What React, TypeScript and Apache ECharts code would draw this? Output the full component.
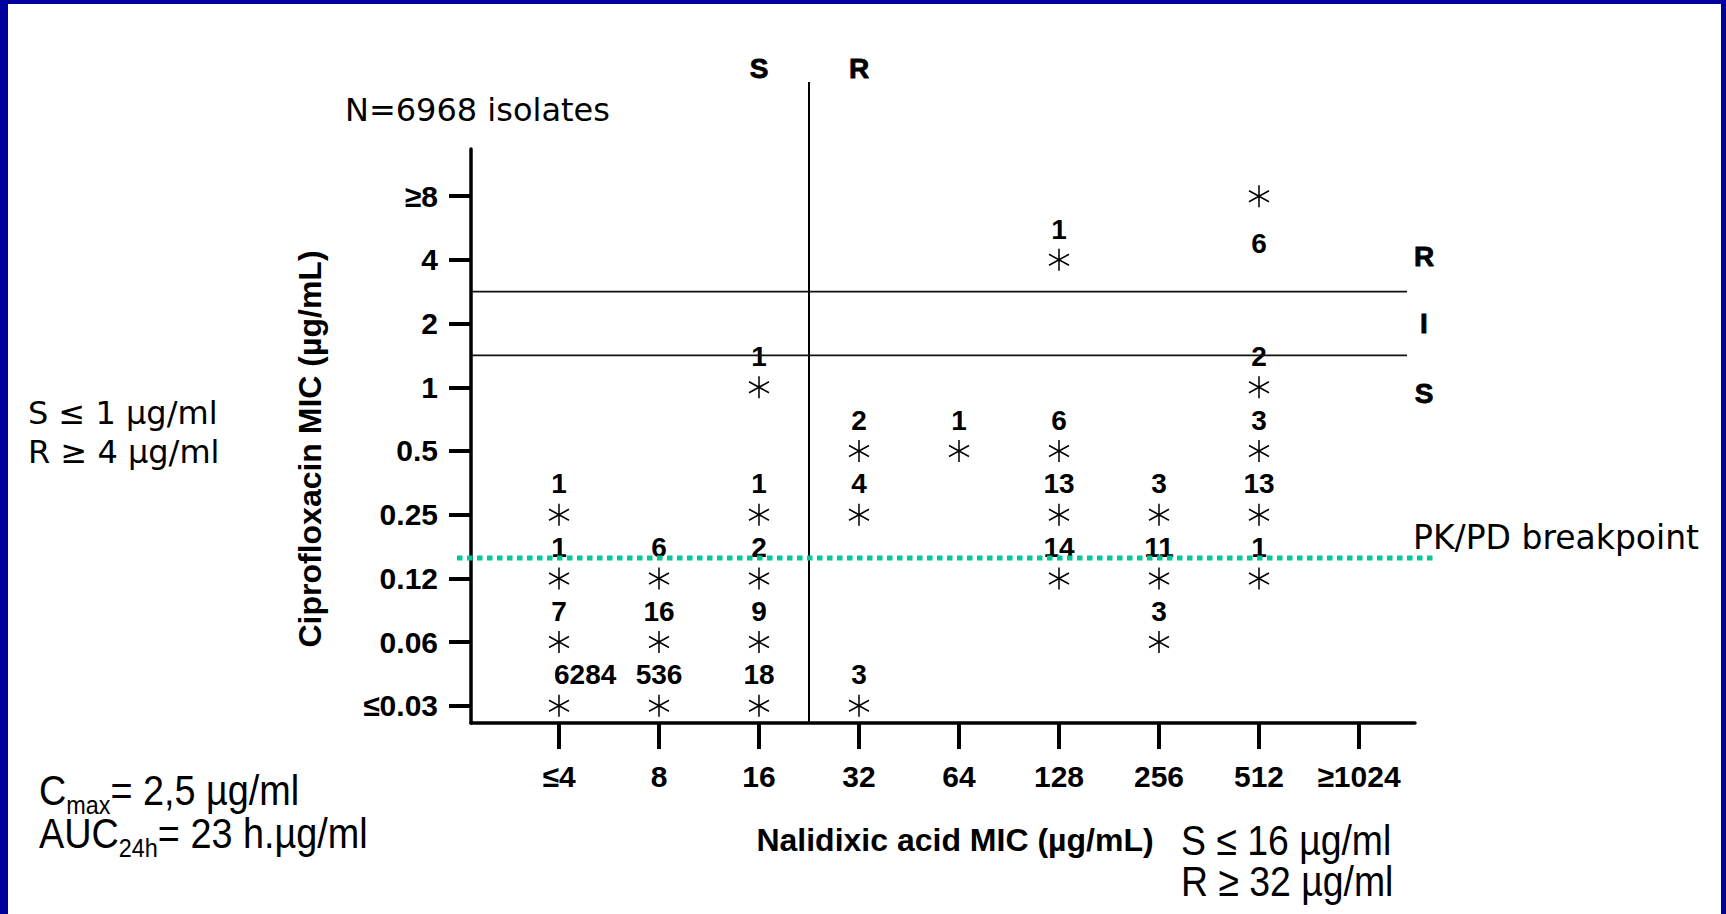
import React, { useEffect, useRef } from "react";
import * as echarts from "echarts";

// Nalidixic acid MIC categories (x) and Ciprofloxacin MIC categories (y)
const xCategories = ["≤4", "8", "16", "32", "64", "128", "256", "512", "≥1024"];
const yCategories = ["≤0.03", "0.06", "0.12", "0.25", "0.5", "1", "2", "4", "≥8"];
// log2 positions of the categories
const xValues = [2, 3, 4, 5, 6, 7, 8, 9, 10];
const yValues = [-5, -4, -3, -2, -1, 0, 1, 2, 3];

// number of isolates per cipro category (≤0.03 … ≥8), one array per nalidixic column
const countsLe4 = [6284, 7, 1, 1, 0, 0, 0, 0, 0];
const counts8 = [536, 16, 6, 0, 0, 0, 0, 0, 0];
const counts16 = [18, 9, 2, 1, 0, 1, 0, 0, 0];
const counts32 = [3, 0, 0, 4, 2, 0, 0, 0, 0];
const counts64 = [0, 0, 0, 0, 1, 0, 0, 0, 0];
const counts128 = [0, 0, 14, 13, 6, 0, 0, 1, 0];
const counts256 = [0, 3, 11, 3, 0, 0, 0, 0, 0];
const counts512 = [0, 0, 1, 13, 3, 2, 0, 0, 6];
const countsGe1024 = [0, 0, 0, 0, 0, 0, 0, 0, 0];
const columns = [countsLe4, counts8, counts16, counts32, counts64, counts128, counts256, counts512, countsGe1024];

// breakpoints (log2 scale)
const naSRBreak = 4.5; // between 16 and 32
const ciproRIBreak = 1.5; // between 2 and 4
const ciproISBreak = 0.5; // between 1 and 2
const pkpdBreak = -2.68;

const X_MIN = 1.12;
const X_MAX = 10.56;
const Y_MIN = -5.27;
const Y_MAX = 3.74;

const STAR = "path://M10 0L10 22M1 5.5L19 16.5M1 16.5L19 5.5";
const BOLD = "'Liberation Sans', Arial, sans-serif";
const SLIDE = "'DejaVu Sans', Verdana, sans-serif";
const NARROW = "'Liberation Sans', Arial, sans-serif";

export default function App() {
  const ref = useRef<HTMLDivElement>(null);
  useEffect(() => {
    document.body.style.margin = "0";
    const chart = echarts.init(ref.current!, null, { renderer: "svg" });

    const data: any[] = [];
    columns.forEach((col, i) => {
      col.forEach((c, j) => {
        if (c > 0) {
          const item: any = { value: [xValues[i], yValues[j], c] };
          if (j === yCategories.length - 1) {
            item.label = { position: "bottom", distance: 22 };
          } else if (c >= 1000) {
            item.label = { align: "left", offset: [-5, 0] };
          }
          data.push(item);
        }
      });
    });

    const labelStyle = { fontFamily: BOLD, fontWeight: "bold", fontSize: 30, color: "#000" };

    chart.setOption({
      animation: false,
      backgroundColor: "#ffffff",
      grid: { left: 471, right: 311, top: 149, bottom: 191, containLabel: false },
      xAxis: {
        type: "value",
        min: X_MIN,
        max: X_MAX,
        axisLine: { onZero: false, lineStyle: { color: "#000", width: 3.5 } },
        axisTick: { show: true, length: 26, customValues: xValues, lineStyle: { color: "#000", width: 4 } },
        axisLabel: {
          ...labelStyle,
          customValues: xValues,
          margin: 38,
          formatter: (v: number) => xCategories[Math.round(v) - 2] ?? "",
        },
        splitLine: { show: false },
      },
      yAxis: {
        type: "value",
        min: Y_MIN,
        max: Y_MAX,
        axisLine: { onZero: false, lineStyle: { color: "#000", width: 3.5 } },
        axisTick: { show: true, length: 22, customValues: yValues, lineStyle: { color: "#000", width: 4 } },
        axisLabel: {
          ...labelStyle,
          customValues: yValues,
          margin: 33,
          formatter: (v: number) => yCategories[Math.round(v) + 5] ?? "",
        },
        splitLine: { show: false },
      },
      series: [
        {
          type: "scatter",
          data,
          symbol: STAR,
          symbolSize: [20, 22],
          itemStyle: { color: "transparent", borderColor: "#000", borderWidth: 1.6, opacity: 1 },
          label: {
            show: true,
            position: "top",
            distance: 5,
            formatter: (p: any) => String(p.value[2]),
            fontFamily: BOLD,
            fontWeight: "bold",
            fontSize: 28,
            color: "#000",
            opacity: 1,
          },
        },
      ],
    });

    const px = (x: number, y: number) => chart.convertToPixel({ gridIndex: 0 }, [x, y]) as number[];
    const elements: any[] = [];
    const blue = "#00009c";
    elements.push({ type: "rect", shape: { x: 0, y: 0, width: 8, height: 914 }, style: { fill: blue }, silent: true });
    elements.push({ type: "rect", shape: { x: 0, y: 0, width: 1726, height: 4 }, style: { fill: blue }, silent: true });
    elements.push({ type: "rect", shape: { x: 1721, y: 0, width: 5, height: 914 }, style: { fill: blue }, silent: true });

    // vertical nalidixic S/R breakpoint
    const vTop = px(naSRBreak, 4.79);
    const vBot = px(naSRBreak, Y_MIN);
    elements.push({ type: "line", shape: { x1: vTop[0], y1: vTop[1], x2: vBot[0], y2: vBot[1] }, style: { stroke: "#000", lineWidth: 2 }, z: 10 });
    // horizontal cipro breakpoints
    [ciproRIBreak, ciproISBreak].forEach((b) => {
      const a = px(X_MIN, b);
      const e = px(10.48, b);
      elements.push({ type: "line", shape: { x1: a[0], y1: a[1], x2: e[0], y2: e[1] }, style: { stroke: "#111", lineWidth: 1.8 }, z: 10 });
    });
    // PK/PD breakpoint
    const pa = px(0.98, pkpdBreak);
    const pe = px(10.74, pkpdBreak);
    elements.push({ type: "line", shape: { x1: pa[0], y1: pa[1], x2: pe[0], y2: pe[1] }, style: { stroke: "#00c99a", lineWidth: 5, lineDash: [5.5, 4.5] }, z: 12 });

    // S / R over the chart
    const sTop = px(4, 5);
    const rTop = px(5, 5);
    const heavy = { fontFamily: BOLD, fontWeight: "bold", fontSize: 28, fill: "#000", align: "center", verticalAlign: "middle", stroke: "#000", lineWidth: 0.8 };
    elements.push({ type: "text", x: sTop[0], y: sTop[1], style: { text: "S", ...heavy } });
    elements.push({ type: "text", x: rTop[0], y: rTop[1], style: { text: "R", ...heavy } });
    // R / I / S at the right
    [["R", 2.05], ["I", 1.0], ["S", -0.1]].forEach(([t, y]) => {
      const p = px(10.65, y as number);
      elements.push({ type: "text", x: p[0], y: p[1], style: { text: t, ...heavy } });
    });

    // axis names
    elements.push({ type: "text", x: 310, y: 449, rotation: Math.PI / 2, style: { text: "Ciprofloxacin MIC (µg/mL)", fontFamily: BOLD, fontWeight: "bold", fontSize: 32, fill: "#000", align: "center", verticalAlign: "middle" } });
    elements.push({ type: "text", x: 955, y: 840, style: { text: "Nalidixic acid MIC (µg/mL)", fontFamily: BOLD, fontWeight: "bold", fontSize: 32, fill: "#000", align: "center", verticalAlign: "middle" } });

    // slide annotations
    const slideText = (text: string, x: number, y: number, size: number) => ({
      type: "text", x, y, style: { text, fontFamily: SLIDE, fontSize: size, fill: "#000", align: "left", verticalAlign: "middle" },
    });
    elements.push(slideText("N=6968 isolates", 345, 110, 32));
    elements.push(slideText("S ≤ 1 µg/ml", 28, 413, 32));
    elements.push(slideText("R ≥ 4 µg/ml", 28, 452, 32));
    elements.push(slideText("PK/PD breakpoint", 1413, 537, 33));

    const narrowText = (text: string, x: number, y: number) => ({
      type: "text", x, y, scaleX: 0.89, style: { text, fontFamily: NARROW, fontSize: 42, fill: "#000", align: "left", verticalAlign: "middle" },
    });
    const richNarrow = (text: string, x: number, y: number) => ({
      type: "text", x, y, scaleX: 0.9,
      style: {
        text, align: "left", verticalAlign: "middle",
        rich: {
          a: { fontFamily: NARROW, fontSize: 42, fill: "#000", lineHeight: 56 },
          s: { fontFamily: NARROW, fontSize: 26, fill: "#000", lineHeight: 56, verticalAlign: "bottom" },
        },
      },
    });
    elements.push(richNarrow("{a|C}{s|max}{a|= 2,5 µg/ml}", 39, 790));
    elements.push(richNarrow("{a|AUC}{s|24h}{a|= 23 h.µg/ml}", 39, 833));
    elements.push(narrowText("S ≤ 16 µg/ml", 1181, 840));
    elements.push(narrowText("R ≥ 32 µg/ml", 1181, 881));

    chart.setOption({ graphic: { elements } });
    return () => chart.dispose();
  }, []);
  return <div ref={ref} style={{ width: 1726, height: 914 }} />;
}
